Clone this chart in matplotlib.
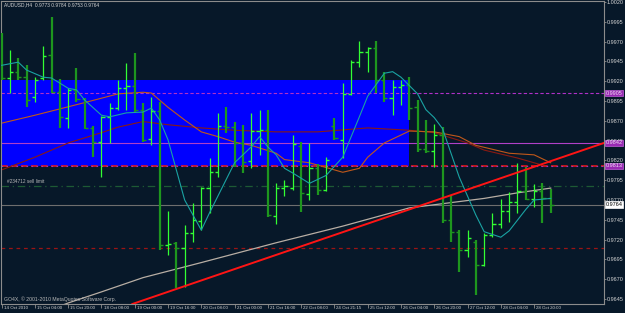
import matplotlib
matplotlib.use("Agg")
import matplotlib.pyplot as plt
from matplotlib import font_manager
from matplotlib.patches import Rectangle
from matplotlib.transforms import blended_transform_factory

# -------------------------------
# AUDUSD H4 data
# -------------------------------
x_labels = ["14 Oct 2010", "15 Oct 04:00", "15 Oct 20:00", "18 Oct 08:00", "19 Oct 00:00",
            "19 Oct 16:00", "20 Oct 08:00", "21 Oct 00:00", "21 Oct 16:00", "22 Oct 08:00",
            "24 Oct 21:15", "25 Oct 12:00", "26 Oct 04:00", "26 Oct 20:00", "27 Oct 12:00",
            "28 Oct 04:00", "28 Oct 20:00"]

opens = [0.9966, 0.9924, 0.9932, 0.9925, 0.9900, 0.9924, 0.9953, 0.9906, 0.9874, 0.9909,
         0.9898, 0.9861, 0.9843, 0.9875, 0.9886, 0.9911, 0.9914, 0.9884, 0.9847, 0.9882,
         0.9713, 0.9716, 0.9709, 0.9728, 0.9744, 0.9785, 0.9805, 0.9863, 0.9862, 0.9842,
         0.9819, 0.9857, 0.9858, 0.9750, 0.9785, 0.9785, 0.9838, 0.9778, 0.9810, 0.9783,
         0.9863, 0.9846, 0.9904, 0.9944, 0.9957, 0.9962, 0.9922, 0.9899, 0.9913, 0.9915,
         0.9887, 0.9834, 0.9832, 0.9852, 0.9745, 0.9730, 0.9707, 0.9717, 0.9688, 0.9726,
         0.9740, 0.9756, 0.9767, 0.9781, 0.9771, 0.9781, 0.9773]
highs = [0.9981, 0.9959, 0.9949, 0.9940, 0.9925, 0.9964, 1.0001, 0.9923, 0.9911, 0.9937,
         0.9899, 0.9863, 0.9876, 0.9892, 0.9922, 0.9943, 0.9956, 0.9892, 0.9900, 0.9894,
         0.9756, 0.9717, 0.9738, 0.9766, 0.9786, 0.9823, 0.9880, 0.9887, 0.9868, 0.9865,
         0.9880, 0.9884, 0.9884, 0.9791, 0.9795, 0.9852, 0.9843, 0.9842, 0.9815, 0.9824,
         0.9874, 0.9918, 0.9947, 0.9971, 0.9963, 0.9971, 0.9932, 0.9922, 0.9922, 0.9925,
         0.9896, 0.9871, 0.9866, 0.9862, 0.9776, 0.9732, 0.9732, 0.9719, 0.9728, 0.9754,
         0.9771, 0.9780, 0.9817, 0.9812, 0.9790, 0.9791, 0.9784]
lows = [0.9922, 0.9905, 0.9922, 0.9887, 0.9894, 0.9922, 0.9905, 0.9861, 0.9861, 0.9894,
        0.9860, 0.9824, 0.9799, 0.9842, 0.9884, 0.9884, 0.9881, 0.9843, 0.9839, 0.9707,
        0.9700, 0.9659, 0.9660, 0.9717, 0.9732, 0.9754, 0.9799, 0.9855, 0.9812, 0.9804,
        0.9810, 0.9827, 0.9749, 0.9740, 0.9775, 0.9783, 0.9755, 0.9770, 0.9776, 0.9781,
        0.9846, 0.9823, 0.9903, 0.9938, 0.9932, 0.9905, 0.9894, 0.9877, 0.9890, 0.9871,
        0.9831, 0.9829, 0.9812, 0.9741, 0.9717, 0.9679, 0.9698, 0.9650, 0.9687, 0.9723,
        0.9735, 0.9742, 0.9754, 0.9770, 0.9761, 0.9741, 0.9753]
closes = [0.9924, 0.9932, 0.9925, 0.9896, 0.9922, 0.9952, 0.9906, 0.9875, 0.9909, 0.9898,
          0.9861, 0.9843, 0.9875, 0.9886, 0.9911, 0.9914, 0.9884, 0.9846, 0.9882, 0.9713,
          0.9714, 0.9709, 0.9728, 0.9745, 0.9785, 0.9805, 0.9863, 0.9862, 0.9842, 0.9818,
          0.9857, 0.9858, 0.9751, 0.9785, 0.9788, 0.9841, 0.9779, 0.9810, 0.9783, 0.9821,
          0.9848, 0.9904, 0.9944, 0.9957, 0.9962, 0.9922, 0.9899, 0.9913, 0.9915, 0.9886,
          0.9834, 0.9832, 0.9852, 0.9745, 0.9730, 0.9707, 0.9722, 0.9688, 0.9726, 0.9740,
          0.9756, 0.9767, 0.9781, 0.9771, 0.9781, 0.9773, 0.9764]

# moving averages (bar index, value)
ma_fast_idx = [0, 2, 3, 5, 6, 8, 9, 10, 12, 13, 15, 17, 18, 19, 20, 22, 24, 25, 26, 28,
               30, 31, 32, 33, 34, 35, 37, 39, 41, 43, 44, 46, 47, 48, 50, 51, 52, 53, 55, 57,
               58, 60, 61, 63, 64, 66]
ma_fast = [0.9940, 0.9944, 0.9934, 0.9925, 0.9924, 0.9911, 0.9909, 0.9896, 0.9877, 0.9875,
           0.9880, 0.9881, 0.9886, 0.9871, 0.9846, 0.9770, 0.9732, 0.9754, 0.9775, 0.9817,
           0.9837, 0.9850, 0.9837, 0.9827, 0.9810, 0.9804, 0.9791, 0.9801, 0.9824, 0.9875,
           0.9901, 0.9930, 0.9932, 0.9925, 0.9904, 0.9884, 0.9874, 0.9860, 0.9799, 0.9751,
           0.9730, 0.9723, 0.9731, 0.9758, 0.9770, 0.9772]
ma_mid_idx = [0, 4, 10, 14, 17, 18, 20, 22, 24, 26, 28, 30, 33, 34, 37, 40, 41, 43, 44, 46,
              49, 52, 55, 57, 61, 64, 66]
ma_mid = [0.9867, 0.9877, 0.9893, 0.9904, 0.9906, 0.9905, 0.9887, 0.9871, 0.9856, 0.9850,
          0.9843, 0.9839, 0.9829, 0.9821, 0.9817, 0.9808, 0.9805, 0.9810, 0.9824, 0.9842,
          0.9857, 0.9856, 0.9850, 0.9839, 0.9829, 0.9827, 0.9817]
ma_slow_idx = [0, 4, 8, 12, 14, 17, 20, 24, 28, 33, 38, 44, 49, 52, 56, 58, 62, 65]
ma_slow = [0.9808, 0.9824, 0.9842, 0.9855, 0.9862, 0.9869, 0.9865, 0.9861, 0.9858, 0.9856,
           0.9856, 0.9861, 0.9858, 0.9855, 0.9842, 0.9833, 0.9823, 0.9814]
ma_long_idx = [6, 8, 12, 17, 24, 33, 41, 49, 58, 62, 66]
ma_long = [0.9632, 0.9640, 0.9654, 0.9672, 0.9691, 0.9716, 0.9737, 0.9760, 0.9772, 0.9779, 0.9785]

# objects on the chart
trend_idx = [15.8, 72.4]
trend_price = [0.9639, 0.9842]
zone_idx = [-2, 49]
zone_price = [0.9813, 0.9921]
purple_levels = [0.9905, 0.9842, 0.9813]
sell_limit = 0.9788
stop_level = 0.9709
bid = 0.9764
price_ticks = [0.9645, 0.9670, 0.9695, 0.9720, 0.9745, 0.9770, 0.9795, 0.9820, 0.9845,
               0.9870, 0.9895, 0.9920, 0.9945, 0.9970, 0.9995, 1.0020]

# -------------------------------
# fonts: MT4 uses a small narrow font
# -------------------------------
installed = {f.name for f in font_manager.fontManager.ttflist}
if "Liberation Sans Narrow" in installed:
    base_font, fs = "Liberation Sans Narrow", 1.22
else:
    base_font, fs = "Liberation Sans", 1.0
plt.rcParams["font.family"] = [base_font, "DejaVu Sans"]

bg = "#071829"
grey = "#8c8c8c"
txt = "#d4d4d4"

fig = plt.figure(figsize=(6.25, 3.13), dpi=100, facecolor=bg)
ax = fig.add_axes([0.001, 9 / 313, 603 / 625, 303 / 313])
ax.set_facecolor(bg)
ax.set_xlim(-0.12, 72.36)
ax.set_ylim(0.96387, 1.00212)

# blue rectangle zone
ax.add_patch(Rectangle((zone_idx[0], zone_price[0]), zone_idx[1] - zone_idx[0],
                       zone_price[1] - zone_price[0], color="#0000ff", lw=0, zorder=0))

# horizontal levels
ax.axhline(purple_levels[0], color="#b030c8", lw=0.8, ls=(0, (3, 2)), zorder=1)
ax.axhline(purple_levels[1], color="#b040c8", lw=0.8, zorder=1)
ax.axhline(purple_levels[2], color="#e01818", lw=1.2, ls=(0, (4, 2)), zorder=1)
ax.axhline(purple_levels[2], color="#a030c0", lw=0.8, ls=(0, (1.5, 3)), zorder=1)
ax.axhline(sell_limit, color="#1d5a34", lw=0.9, ls=(0, (6, 3, 1, 3)), zorder=1)
ax.axhline(stop_level, color="#9a1414", lw=0.9, ls=(0, (3, 3)), zorder=1)
ax.axhline(bid, color="#6e6e6e", lw=0.8, zorder=1)

# moving averages
ax.plot(ma_long_idx, ma_long, color="#b8aea4", lw=0.9, zorder=2)
ax.plot(ma_slow_idx, ma_slow, color="#8a1a12", lw=0.8, zorder=2)
ax.plot(ma_mid_idx, ma_mid, color="#c0581a", lw=0.8, zorder=2)
ax.plot(ma_fast_idx, ma_fast, color="#1aa3a3", lw=0.8, zorder=4)

# trend line
ax.axline((trend_idx[0], trend_price[0]), (trend_idx[1], trend_price[1]),
          color="#ff1414", lw=1.4, zorder=5)

# OHLC bars
for i in range(len(opens)):
    up = closes[i] >= opens[i]
    col = "#33ff33" if up else "#1e961e"
    lw = 0.9 if up else 1.6
    ax.vlines(i, lows[i], highs[i], color=col, lw=lw, zorder=3)
    ax.hlines(opens[i], i - 0.38, i, color=col, lw=1.0, zorder=3)
    ax.hlines(closes[i], i, i + 0.38, color=col, lw=1.0, zorder=3)

# -------------------------------
# axes, ticks and labels
# -------------------------------
for s in ax.spines.values():
    s.set_color(grey)
    s.set_linewidth(0.8)

ax.yaxis.tick_right()
ax.set_yticks(price_ticks)
ax.set_yticklabels(["%.4f" % p for p in price_ticks])
ax.tick_params(axis="y", colors=grey, length=1.5, width=0.6, pad=0.8,
               labelsize=4.0 * fs, labelcolor=txt)

ax.set_xticks(range(0, 4 * len(x_labels), 4))
ax.set_xticklabels([])
ax.tick_params(axis="x", colors=grey, length=3, width=0.6)
bx = blended_transform_factory(ax.transData, ax.transAxes)
for k, lab in enumerate(x_labels):
    ax.text(4 * k + 0.25, -0.008, lab, transform=bx, ha="left", va="top",
            fontsize=3.2 * fs, color=txt, clip_on=False)

# price boxes on the right scale (drawn over the scale labels)
by = blended_transform_factory(ax.transAxes, ax.transData)
for p in purple_levels:
    ax.text(1.003, p, "%.4f" % p, transform=by, ha="left", va="center", fontsize=4.0 * fs,
            color="#f0e0f4", clip_on=False, zorder=10,
            bbox=dict(boxstyle="square,pad=0.15", fc="#9a2ab4", ec="#c060d8", lw=0.5))
ax.text(1.003, bid, "%.4f" % bid, transform=by, ha="left", va="center", fontsize=4.0 * fs,
        color="black", clip_on=False, zorder=10,
        bbox=dict(boxstyle="square,pad=0.15", fc="white", ec="white", lw=0.5))

# chart texts
ax.text(0.005, 0.987, "AUDUSD,H4  0.9773 0.9784 0.9753 0.9764", transform=ax.transAxes,
        ha="left", va="center", fontsize=3.5 * fs, color=txt)
ax.text(0.6, sell_limit + 0.0002, "#234712 sell limit", ha="left", va="bottom",
        fontsize=3.4 * fs, color="#b8b8b8")
ax.text(0.005, 0.006, "GO4X, \u00a9 2001-2010 MetaQuotes Software Corp.", transform=ax.transAxes,
        ha="left", va="bottom", fontsize=3.7 * fs, color="#b8b8b8")

fig.savefig("out.png", dpi=100, facecolor=bg)
